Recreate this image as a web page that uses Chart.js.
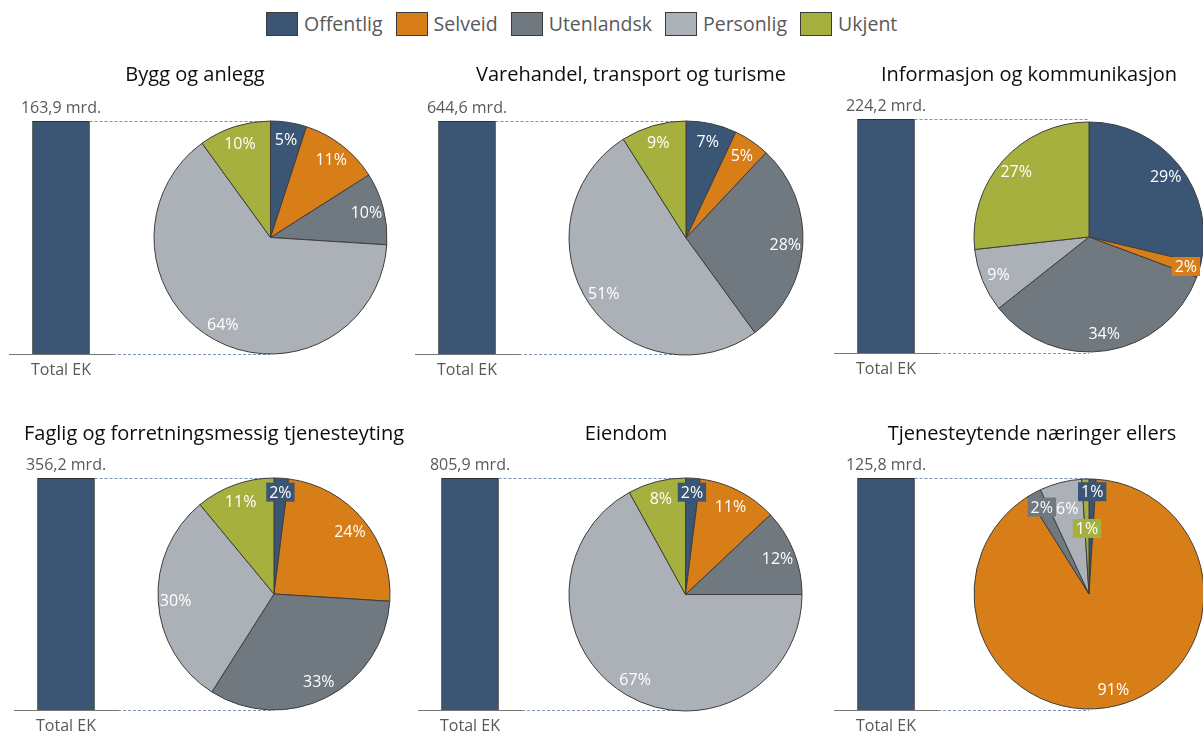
<!DOCTYPE html>
<html lang="no">
<head>
<meta charset="utf-8">
<title>Egenkapital etter eiertype og næring</title>
<script src="https://cdn.jsdelivr.net/npm/chart.js@4.4.1/dist/chart.umd.min.js"></script>
<style>
  html, body { margin: 0; padding: 0; background: #fff; overflow: hidden; }
  #page { position: relative; width: 1203px; height: 733px; font-family: 'Open Sans', sans-serif; }
  #page canvas { position: absolute; }
  #legend { position: absolute; left: 266px; top: 12px; display: flex; align-items: center; }
  .lg-box { width: 32px; height: 24px; box-sizing: border-box; border: 1px solid #3a3a3a; margin-right: 6px; }
  .lg-text { font-size: 19.5px; color: #595959; margin-right: 13px; line-height: 24px; }
</style>
</head>
<body>
<div id="page"><div id="legend"></div></div>
<script>
// Eierandeler per næring (prosent) og total egenkapital (mrd. kr)
const categories = ['Offentlig', 'Selveid', 'Utenlandsk', 'Personlig', 'Ukjent'];
const sectors = [
  'Bygg og anlegg',
  'Varehandel, transport og turisme',
  'Informasjon og kommunikasjon',
  'Faglig og forretningsmessig tjenesteyting',
  'Eiendom',
  'Tjenesteytende næringer ellers'
];
const barLabel = ['Total EK'];
const totalEk = [163.9, 644.6, 224.2, 356.2, 805.9, 125.8];
const offentlig = [5, 7, 29, 2, 2, 1];
const selveid = [11, 5, 2, 24, 11, 91];
const utenlandsk = [10, 28, 34, 33, 12, 2];
const personlig = [64, 51, 9, 30, 67, 6];
const ukjent = [10, 9, 27, 11, 8, 1];

const sliceColors = ['#3b5674', '#d87e18', '#707880', '#abb1b7', '#a6b03f'];
const FONT = "'Open Sans', sans-serif";

// plassering av hvert panel på siden
const panelLayout = [
  { barX: 60.5, barTop: 121, barBottom: 354, pieX: 270, pieY: 237.5, r: 116.5, titleX: 195, titleY: 75 },
  { barX: 467, barTop: 121, barBottom: 354, pieX: 686, pieY: 237.5, r: 117, titleX: 631, titleY: 75 },
  { barX: 885.5, barTop: 119, barBottom: 353, pieX: 1089, pieY: 237, r: 115, titleX: 1029, titleY: 75 },
  { barX: 66, barTop: 478, barBottom: 710, pieX: 274, pieY: 594, r: 116, titleX: 214, titleY: 434 },
  { barX: 469.5, barTop: 478, barBottom: 710, pieX: 685, pieY: 594, r: 116.5, titleX: 626, titleY: 434 },
  { barX: 886, barTop: 478, barBottom: 710, pieX: 1089, pieY: 594, r: 115, titleX: 1032, titleY: 434 }
];
// små sektorer som ligger tett må flyttes innover
const labelRadius = { 5: [0.89, 0.86, 0.86, 0.77, 0.57] };

const page = document.getElementById('page');

// forklaring
const legend = document.getElementById('legend');
categories.forEach((c, k) => {
  const box = document.createElement('span');
  box.className = 'lg-box';
  box.style.background = sliceColors[k];
  const txt = document.createElement('span');
  txt.className = 'lg-text';
  txt.textContent = c;
  legend.appendChild(box);
  legend.appendChild(txt);
});

function addCanvas(left, top, w, h) {
  const c = document.createElement('canvas');
  c.width = w; c.height = h;
  c.style.left = left + 'px';
  c.style.top = top + 'px';
  c.style.width = w + 'px';
  c.style.height = h + 'px';
  page.appendChild(c);
  return c;
}

// tittel, verdi over søylen og stiplede hjelpelinjer mot kakediagrammet
const panelDecor = {
  id: 'panelDecor',
  afterDraw(chart, args, opts) {
    const ctx = chart.ctx;
    const area = chart.chartArea;
    const bar = chart.getDatasetMeta(0).data[0];
    ctx.save();
    ctx.fillStyle = '#0d0d0d';
    ctx.font = '20px ' + FONT;
    ctx.textAlign = 'center';
    ctx.textBaseline = 'middle';
    ctx.fillText(opts.title, opts.titleX, opts.titleY);

    ctx.fillStyle = '#595959';
    ctx.font = '16px ' + FONT;
    ctx.textBaseline = 'alphabetic';
    const v = chart.data.datasets[0].data[0];
    ctx.fillText(v.toFixed(1).replace('.', ',') + ' mrd.', bar.x, bar.y - 8);

    ctx.strokeStyle = '#7d93ad';
    ctx.lineWidth = 1;
    ctx.setLineDash([3, 2]);
    ctx.beginPath();
    ctx.moveTo(bar.x + bar.width / 2, Math.round(area.top) + 0.5);
    ctx.lineTo(opts.pieX, Math.round(area.top) + 0.5);
    ctx.moveTo(area.right, Math.round(area.bottom) + 0.5);
    ctx.lineTo(opts.pieX, Math.round(area.bottom) + 0.5);
    ctx.stroke();
    ctx.restore();
  }
};

// prosentetiketter inne i sektorene
const sliceLabels = {
  id: 'sliceLabels',
  afterDatasetsDraw(chart, args, opts) {
    const ctx = chart.ctx;
    const ds = chart.data.datasets[0];
    ctx.save();
    ctx.font = '16px ' + FONT;
    ctx.textAlign = 'center';
    ctx.textBaseline = 'middle';
    chart.getDatasetMeta(0).data.forEach((arc, k) => {
      const v = ds.data[k];
      const p = arc.getProps(['x', 'y', 'startAngle', 'endAngle', 'outerRadius'], true);
      const mid = (p.startAngle + p.endAngle) / 2;
      const f = opts.radii ? opts.radii[k] : (v <= 2 ? 0.88 : 0.85);
      const lx = p.x + Math.cos(mid) * p.outerRadius * f;
      const ly = p.y + Math.sin(mid) * p.outerRadius * f;
      const text = v + '%';
      if (v <= 2) {
        const w = ctx.measureText(text).width + 6;
        ctx.fillStyle = ds.backgroundColor[k];
        ctx.fillRect(lx - w / 2, ly - 9.5, w, 19);
      }
      ctx.fillStyle = '#ffffff';
      ctx.fillText(text, lx, ly + 1);
    });
    ctx.restore();
  }
};

sectors.forEach((sector, i) => {
  const lay = panelLayout[i];

  // søyle for total egenkapital
  const left = Math.round(lay.barX - 58);
  const top = lay.titleY - 22;
  const w = Math.round(lay.pieX + lay.r + 40 - left);
  const h = lay.barBottom + 30 - top;
  const barCanvas = addCanvas(left, top, w, h);
  new Chart(barCanvas, {
    type: 'bar',
    data: {
      labels: barLabel,
      datasets: [{
        data: [totalEk[i]],
        backgroundColor: sliceColors[0],
        borderColor: '#262626',
        borderWidth: 1,
        barThickness: 57
      }]
    },
    options: {
      responsive: false,
      animation: false,
      events: [],
      layout: { padding: { left: 6, right: w - 6 - 104, top: lay.barTop - top, bottom: 0 } },
      scales: {
        x: {
          grid: { display: false, drawTicks: false },
          border: { color: '#767676', width: 1 },
          ticks: { color: '#595959', font: { family: FONT, size: 16 }, padding: 7 },
          afterFit: s => { s.height = 30; }
        },
        y: { display: false, min: 0, max: totalEk[i] }
      },
      plugins: {
        legend: { display: false },
        tooltip: { enabled: false },
        panelDecor: {
          title: sector,
          titleX: lay.titleX - left,
          titleY: lay.titleY - top,
          pieX: lay.pieX - left
        }
      }
    },
    plugins: [panelDecor]
  });

  // kakediagram med eierfordeling
  const size = Math.round(lay.r * 2 + 8);
  const pieCanvas = addCanvas(Math.round(lay.pieX - size / 2), Math.round(lay.pieY - size / 2), size, size);
  const shares = [offentlig[i], selveid[i], utenlandsk[i], personlig[i], ukjent[i]];
  new Chart(pieCanvas, {
    type: 'pie',
    data: {
      labels: categories,
      datasets: [{
        data: shares,
        backgroundColor: sliceColors,
        borderColor: '#3d3d3d',
        borderWidth: 1,
        radius: lay.r
      }]
    },
    options: {
      responsive: false,
      animation: false,
      events: [],
      layout: { padding: 0 },
      plugins: {
        legend: { display: false },
        tooltip: { enabled: false },
        sliceLabels: { radii: labelRadius[i] || null }
      }
    },
    plugins: [sliceLabels]
  });
});
</script>
</body>
</html>
